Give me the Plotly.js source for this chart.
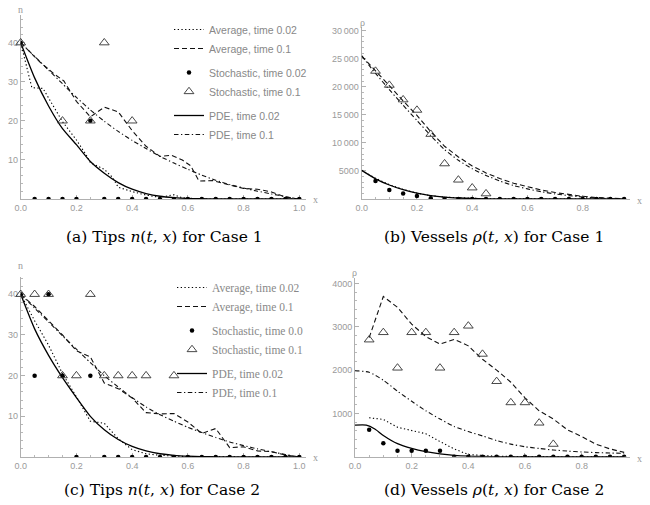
<!DOCTYPE html>
<html><head><meta charset="utf-8">
<script src="https://cdn.plot.ly/plotly-3.0.1.min.js"></script>
<style>body{margin:0;padding:0;background:#fff}#chart{width:650px;height:505px}</style>
</head><body><div id="chart"></div>
<script>
// ---------- Panel (a): Tips n(t,x), Case 1 ----------
const a_grid = [0,0.05,0.1,0.15,0.2,0.25,0.3,0.35,0.4,0.45,0.5,0.55,0.6,0.65,0.7,0.75,0.8,0.85,0.9,0.95,1.0];
const a_avg02_x = [0,0.04,0.08,0.15,0.2,0.235,0.25,0.3,0.33,0.35,0.4,0.45,0.5,0.55,0.58,0.65,0.8,1.0];
const a_avg02_y = [40,28.5,28.3,19.8,15.1,11.3,9.3,7.6,5.5,3,1.9,1,0.4,1.1,0.3,0,0,0];
const a_avg1_x = [0,0.07,0.12,0.155,0.2,0.25,0.3,0.35,0.4,0.45,0.5,0.54,0.58,0.61,0.64,0.69,0.75,0.8,0.85,0.9,0.95,1.0];
const a_avg1_y = [40,35,32,30.2,25,21,23.5,22.3,17.5,13.5,10.9,11.2,10,8.5,4.6,4.7,3.6,2.7,2.5,1.8,0.5,0];
const a_pde02 = [40,31,23.8,18,13.9,9.6,6.6,4.2,2.5,1.4,0.7,0.35,0.15,0.07,0.03,0.01,0,0,0,0,0];
const a_pde1 = [40,36.5,33,29.5,26,22.8,19.9,17.3,15,12.9,10.9,9.2,7.6,6.1,4.8,3.7,2.8,2,1.3,0.6,0];
const a_sto02 = [40,0,0,0,0,20,0,0,0,0,0,0,0,0,0,0,0,0,0,0,0];
const a_sto1_x = [0,0.15,0.25,0.3,0.4];
const a_sto1_y = [40,20,20,40,20];

// ---------- Panel (b): Vessels rho(t,x), Case 1 ----------
const b_grid = [0,0.05,0.1,0.15,0.2,0.25,0.3,0.35,0.4,0.45,0.5,0.55,0.6,0.65,0.7,0.75,0.8,0.85,0.9,0.95];
const b_avg02 = [5100,3700,2550,1700,1050,600,330,200,100,50,20,5,0,0,0,0,0,0,0,0];
const b_avg1 = [25500,22900,20200,17500,14900,12000,9400,7500,5900,4650,3650,2800,2150,1600,1150,780,480,260,120,40];
const b_pde02 = [5100,3600,2500,1650,1050,620,340,180,90,40,15,5,0,0,0,0,0,0,0,0];
const b_pde1 = [25500,22400,19500,16700,14000,11300,8800,6900,5400,4200,3200,2400,1800,1300,900,600,360,190,80,20];
const b_sto02_x = [0.05,0.1,0.15,0.2,0.25,0.3,0.35,0.4,0.45,0.5,0.55,0.6,0.65,0.7,0.75,0.8,0.85,0.9,0.95];
const b_sto02_y = [3200,1600,1000,530,120,0,0,0,0,0,0,0,0,0,0,0,0,0,0];
const b_sto1_x = [0.05,0.1,0.15,0.2,0.25,0.3,0.35,0.4,0.45];
const b_sto1_y = [22800,20300,17700,15850,11550,6300,3400,2000,950];

// ---------- Panel (c): Tips n(t,x), Case 2 ----------
const c_grid = [0,0.05,0.1,0.15,0.2,0.25,0.3,0.35,0.4,0.45,0.5,0.55,0.6,0.65,0.7,0.75,0.8,0.85,0.9,0.95,1.0];
const c_avg02 = [40,33.5,27.5,20.5,14.8,8.8,8.3,4.5,1.8,0.8,0.4,0.2,0.1,0.05,0,0,0,0,0,0,0];
const c_avg1 = [40,37,33.5,30,26.1,24.6,18.2,16.8,14.5,10.9,10.6,10.7,8.6,5.8,7.0,2.3,2.5,1.5,1.3,0.5,0];
const c_pde02 = [40,31.5,25,19.5,14.6,10,6.7,4.3,2.6,1.5,0.8,0.4,0.2,0.1,0.05,0.02,0,0,0,0,0];
const c_pde1 = [40,36.6,33.2,29.8,26.5,23.2,20,17.2,14.6,12.3,10.4,8.8,7.3,6,4.8,3.7,2.8,2,1.3,0.6,0];
const c_sto02 = [40,20,40,20,0,20,0,0,0,0,0,0,0,0,0,0,0,0,0,0,0];
const c_sto1_x = [0,0.05,0.1,0.15,0.2,0.25,0.3,0.35,0.4,0.45,0.55];
const c_sto1_y = [40,40,40,20,20,40,20,20,20,20,20];

// ---------- Panel (d): Vessels rho(t,x), Case 2 ----------
const d_grid = [0,0.05,0.1,0.15,0.2,0.25,0.3,0.35,0.4,0.45,0.5,0.55,0.6,0.65,0.7,0.75,0.8,0.85,0.9,0.95];
const d_grid5 = [0.05,0.1,0.15,0.2,0.25,0.3,0.35,0.4,0.45,0.5,0.55,0.6,0.65,0.7,0.75,0.8,0.85,0.9,0.95];
const d_avg02 = [900,860,680,610,530,350,180,50,25,10,5,0,0,0,0,0,0,0,0];
const d_avg1 = [2750,3700,3450,3060,2775,2600,2710,2560,2250,2000,1720,1360,1060,870,620,465,290,180,100];
const d_pde02_x = [0,0.04,0.07,0.1,0.15,0.2,0.25,0.3,0.35,0.4,0.45,0.5,0.55,0.6,0.7,0.8,0.95];
const d_pde02_y = [730,730,640,490,300,190,115,65,30,12,5,2,0,0,0,0,0];
const d_pde1 = [1985,1950,1767,1512,1280,1060,870,700,580,480,372,290,230,190,155,130,110,95,85,78];
const d_sto02 = [620,310,140,140,140,140,0,0,0,0,0,0,0,0,0,0,0,0,0];
const d_sto1_x = [0.05,0.1,0.15,0.2,0.25,0.3,0.35,0.4,0.45,0.5,0.55,0.6,0.65,0.7];
const d_sto1_y = [2700,2870,2050,2870,2870,2050,2870,3020,2370,1740,1250,1250,780,290];

// legend labels
const namesA = ["Average, time 0.02","Average, time 0.1","Stochastic, time 0.02","Stochastic, time 0.1","PDE, time 0.02","PDE, time 0.1"];
const namesC = ["Average, time 0.02","Average, time 0.1","Stochastic, time 0.0","Stochastic, time 0.1","PDE, time 0.02","PDE, time 0.1"];

// ---------- styles ----------
const W = 650, H = 505;
const DOT = {color:'#000', width:1.1, dash:'1.3px,2.4px'};
const DASH = {color:'#111', width:1.1, dash:'5px,3px'};
const SOLID = {color:'#000', width:1.3};
const DASHDOT = {color:'#111', width:1.1, dash:'4.5px,2.5px,1.3px,2.5px'};
const DOTM = {symbol:'circle', size:4.5, color:'#000'};
const TRIM = {symbol:'triangle-up-open', size:8.5, color:'#333', line:{width:0.9}};

function panel(ax, leg, names, s){
  const xa = 'x'+ax, ya = 'y'+ax;
  const base = {xaxis:xa, yaxis:ya, cliponaxis:false, showlegend: !!leg, legend: leg || 'legend'};
  return [
    Object.assign({}, base, {x:s.avg02x, y:s.avg02y, mode:'lines', line:DOT, name:names[0], legendgroup:'avg', legendrank:1}),
    Object.assign({}, base, {x:s.avg1x, y:s.avg1y, mode:'lines', line:DASH, name:names[1], legendgroup:'avg', legendrank:2}),
    Object.assign({}, base, {x:s.pde02x, y:s.pde02y, mode:'lines', line:Object.assign({shape:'spline', smoothing:0.6}, SOLID), name:names[4], legendgroup:'pde', legendrank:5}),
    Object.assign({}, base, {x:s.pde1x, y:s.pde1y, mode:'lines', line:Object.assign({shape:'spline', smoothing:0.6}, DASHDOT), name:names[5], legendgroup:'pde', legendrank:6}),
    Object.assign({}, base, {x:s.sto02x, y:s.sto02y, mode:'markers', marker:DOTM, name:names[2], legendgroup:'sto', legendrank:3, cliponaxis:true}),
    Object.assign({}, base, {x:s.sto1x, y:s.sto1y, mode:'markers', marker:TRIM, name:names[3], legendgroup:'sto', legendrank:4})
  ];
}

const data = [].concat(
  panel('', 'legend', namesA, {avg02x:a_avg02_x, avg02y:a_avg02_y, avg1x:a_avg1_x, avg1y:a_avg1_y,
    pde02x:a_grid, pde02y:a_pde02, pde1x:a_grid, pde1y:a_pde1, sto02x:a_grid, sto02y:a_sto02, sto1x:a_sto1_x, sto1y:a_sto1_y}),
  panel('2', null, namesA, {avg02x:b_grid, avg02y:b_avg02, avg1x:b_grid, avg1y:b_avg1,
    pde02x:b_grid, pde02y:b_pde02, pde1x:b_grid, pde1y:b_pde1, sto02x:b_sto02_x, sto02y:b_sto02_y, sto1x:b_sto1_x, sto1y:b_sto1_y}),
  panel('3', 'legend2', namesC, {avg02x:c_grid, avg02y:c_avg02, avg1x:c_grid, avg1y:c_avg1,
    pde02x:c_grid, pde02y:c_pde02, pde1x:c_grid, pde1y:c_pde1, sto02x:c_grid, sto02y:c_sto02, sto1x:c_sto1_x, sto1y:c_sto1_y}),
  panel('4', null, namesC, {avg02x:d_grid5, avg02y:d_avg02, avg1x:d_grid5, avg1y:d_avg1,
    pde02x:d_pde02_x, pde02y:d_pde02_y, pde1x:d_grid, pde1y:d_pde1, sto02x:d_grid5, sto02y:d_sto02, sto1x:d_sto1_x, sto1y:d_sto1_y})
);

const TICKFONT = {family:'Liberation Sans, Arial, sans-serif', size:9, color:'#9a9a9a'};
function xaxis(p0, p1, rmax, anchor, tv, tt){
  return {domain:[p0/W, p1/W], range:[0,rmax], anchor:anchor, showgrid:false, zeroline:false,
    showline:true, linecolor:'#b0b0b0', linewidth:1, ticks:'inside', ticklen:4, tickcolor:'#b0b0b0', tickwidth:1,
    tickmode:'array', tickvals:tv, ticktext:tt, tickfont:TICKFONT, fixedrange:true, layer:'below traces',
    minor:{ticks:'inside', ticklen:2, tickcolor:'#b8b8b8', tickmode:'linear', tick0:0, dtick:0.05}};
}
function yaxis(pb, pt, rmax, anchor, tv, tt, mdt){
  return {domain:[1-pb/H, 1-pt/H], range:[0,rmax], anchor:anchor, showgrid:false, zeroline:false,
    showline:true, linecolor:'#b0b0b0', linewidth:1, ticks:'inside', ticklen:4, tickcolor:'#b0b0b0', tickwidth:1,
    tickmode:'array', tickvals:tv, ticktext:tt, tickfont:TICKFONT, fixedrange:true, layer:'below traces',
    minor:{ticks:'inside', ticklen:2, tickcolor:'#b8b8b8', tickmode:'linear', tick0:0, dtick:mdt}};
}
const xtv1 = [0,0.2,0.4,0.6,0.8,1.0], xtt1 = ['0.0','0.2','0.4','0.6','0.8','1.0'];
const xtv2 = [0,0.2,0.4,0.6,0.8], xtt2 = ['0.0','0.2','0.4','0.6','0.8'];

const LBL = {family:'Liberation Serif, serif', size:10, color:'#999'};
const CAP = {family:'DejaVu Serif', size:15.5, color:'#000'};
function ann(text, px, py, font, xanchor){
  return {text:text, x:px/W, y:1-py/H, xref:'paper', yref:'paper', showarrow:false, font:font, xanchor:xanchor||'center', yanchor:'middle'};
}

const layout = {
  width:W, height:H, margin:{l:0,r:0,t:0,b:0}, paper_bgcolor:'#fff', plot_bgcolor:'rgba(0,0,0,0)',
  xaxis: xaxis(20.7, 306, 1.024, 'y', xtv1, xtt1),
  yaxis: yaxis(199, 15, 47.09, 'x', [10,20,30,40], ['10','20','30','40'], 2),
  xaxis2: xaxis(361.7, 630, 0.9712, 'y2', xtv2, xtt2),
  yaxis2: yaxis(199, 27, 30660, 'x2', [5000,10000,15000,20000,25000,30000], ['5000','10\u2009000','15\u2009000','20\u2009000','25\u2009000','30\u2009000'], 1000),
  xaxis3: xaxis(20.7, 306, 1.024, 'y3', xtv1, xtt1),
  yaxis3: yaxis(457, 277, 44.25, 'x3', [10,20,30,40], ['10','20','30','40'], 2),
  xaxis4: xaxis(355, 630, 0.9707, 'y4', xtv2, xtt2),
  yaxis4: yaxis(456.7, 278, 4127, 'x4', [1000,2000,3000,4000], ['1000','2000','3000','4000'], 200),
  legend: {x:169/W, xanchor:'left', y:1-15/H, yanchor:'top', bgcolor:'rgba(0,0,0,0)', borderwidth:0,
    font:{family:'Liberation Sans, Arial, sans-serif', size:10.5, color:'#888'}, traceorder:'grouped', tracegroupgap:5},
  legend2: {x:172/W, xanchor:'left', y:1-273/H, yanchor:'top', bgcolor:'rgba(0,0,0,0)', borderwidth:0,
    font:{family:'Liberation Serif, serif', size:11.5, color:'#888'}, traceorder:'grouped', tracegroupgap:5},
  annotations: [
    ann('n', 20.7, 9, LBL), ann('x', 315, 199, LBL),
    ann('\u03c1', 362.7, 22, LBL), ann('x', 639, 200, LBL),
    ann('n', 20.7, 265, LBL), ann('x', 315, 457, LBL),
    ann('\u03c1', 355, 272, LBL), ann('x', 639, 458, LBL),
    ann('(a) Tips <i>n</i>(<i>t</i>, <i>x</i>) for Case 1', 164, 237, CAP),
    ann('(b) Vessels <i>\u03c1</i>(<i>t</i>, <i>x</i>) for Case 1', 494, 237, CAP),
    ann('(c) Tips <i>n</i>(<i>t</i>, <i>x</i>) for Case 2', 162, 490, CAP),
    ann('(d) Vessels <i>\u03c1</i>(<i>t</i>, <i>x</i>) for Case 2', 494, 490, CAP)
  ]
};

Plotly.newPlot('chart', data, layout, {displayModeBar:false, staticPlot:true});
</script></body></html>
